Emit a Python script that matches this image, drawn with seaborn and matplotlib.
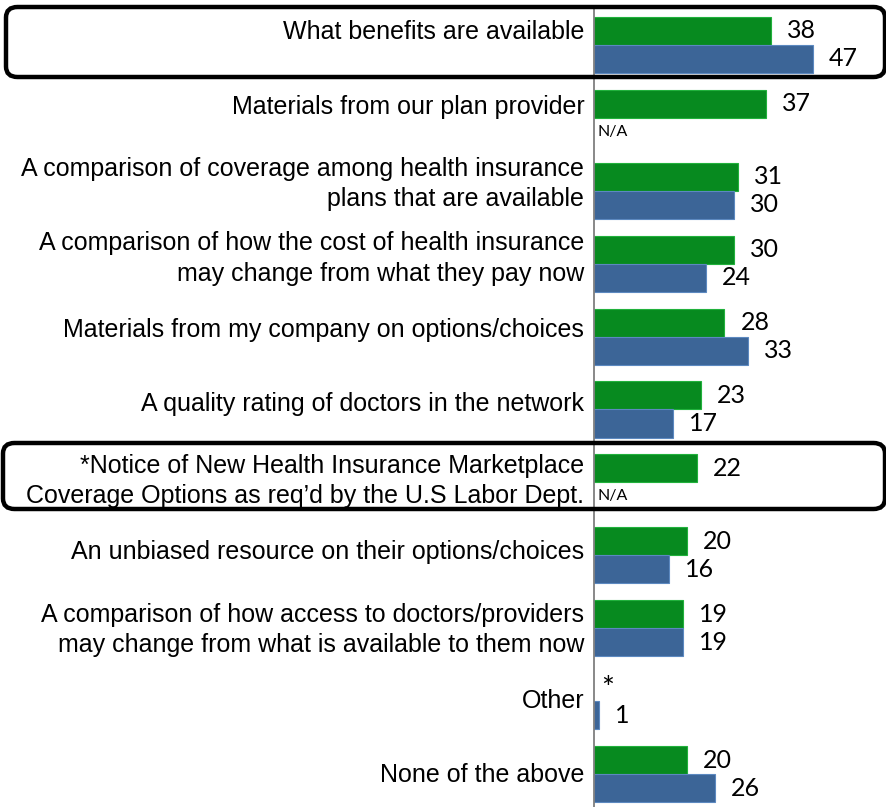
import numpy as np
import pandas as pd
import matplotlib
matplotlib.use("Agg")
import matplotlib.pyplot as plt
from matplotlib.patches import FancyBboxPatch
import seaborn as sns

# Survey items (two-line items wrap with \n)
categories = [
    "What benefits are available",
    "Materials from our plan provider",
    "A comparison of coverage among health insurance\nplans that are available",
    "A comparison of how the cost of health insurance\nmay change from what they pay now",
    "Materials from my company on options/choices",
    "A quality rating of doctors in the network",
    "*Notice of New Health Insurance Marketplace\nCoverage Options as req\u2019d by the U.S Labor Dept.",
    "An unbiased resource on their options/choices",
    "A comparison of how access to doctors/providers\nmay change from what is available to them now",
    "Other",
    "None of the above",
]
series_names = ["Current", "Prior"]
# Percent values; NaN = not asked / less than 0.5%
current_values = [38, 37, 31, 30, 28, 23, 22, 20, 19, np.nan, 20]
prior_values = [47, np.nan, 30, 24, 33, 17, np.nan, 16, 19, 1, 26]
# Text shown where a value is missing
current_missing = ["", "", "", "", "", "", "", "", "", "*", ""]
prior_missing = ["", "N/A", "", "", "", "", "N/A", "", "", "", ""]
highlighted = [0, 6]

GREEN = "#078A1F"
BLUE = "#3C6597"
FONT = ["Liberation Sans", "DejaVu Sans"]
NUM_FONT = ["Lato", "DejaVu Sans"]

df = pd.DataFrame({
    "item": categories * 2,
    "series": [series_names[0]] * len(categories) + [series_names[1]] * len(categories),
    "value": current_values + prior_values,
})

sns.set_style("white")
plt.rcParams["font.family"] = FONT
plt.rcParams["text.color"] = "black"
plt.rcParams["ytick.labelcolor"] = "black"

W, H = 886, 807
fig = plt.figure(figsize=(W / 100, H / 100), dpi=100)
ax_left, ax_top, ax_bottom = 594, 8.5, 810.5
ax = fig.add_axes([ax_left / W, (H - ax_bottom) / H, (W - ax_left) / W, (ax_bottom - ax_top) / H])

sns.barplot(data=df, y="item", x="value", hue="series", order=categories,
            hue_order=series_names, palette=[GREEN, BLUE], orient="h",
            width=0.77, gap=0, ax=ax, legend=False, errorbar=None,
            saturation=1, edgecolor=None, linewidth=0)

# thin lighter outline on the bars
for patch in ax.patches:
    fc = patch.get_facecolor()
    patch.set_edgecolor(tuple(min(1, c * 1.1 + 0.1) for c in fc[:3]))
    patch.set_linewidth(0.8)

px_per_unit = 4.66
ax.set_xlim(0, (W - ax_left) / px_per_unit)
ax.set_ylim(len(categories) - 0.5, -0.5)
ax.set_xlabel("")
ax.set_ylabel("")
ax.set_xticks([])

for s in ["top", "right", "bottom"]:
    ax.spines[s].set_visible(False)
ax.spines["left"].set_color("#7F7F7F")
ax.spines["left"].set_linewidth(1.3)

# category labels, spread slightly wider than the bar rows
n = len(categories)
label_pos = [i * 1.019 - 0.206 for i in range(n)]
ax.set_yticks(label_pos)
ax.set_yticklabels(categories, fontsize=18, linespacing=1.33, ha="right",
                   color="black")
ax.tick_params(axis="y", which="major", length=0, pad=7)
ax.set_yticks([i + 0.5 for i in range(n - 1)], minor=True)
ax.tick_params(axis="y", which="minor", length=6.5, width=1, color="#7F7F7F")

bw = 0.77 / 2
off = bw / 2
x_pad = 16 / px_per_unit
for i in range(n):
    for v, miss, dy in ((current_values[i], current_missing[i], -off),
                        (prior_values[i], prior_missing[i], off)):
        if not np.isnan(v):
            ax.text(v + x_pad, i + dy, f"{v:g}", fontsize=18, va="center",
                    ha="left", family=NUM_FONT)
        elif miss == "N/A":
            ax.text(0.8, i + dy, miss, fontsize=11.5, va="center", ha="left",
                    family=NUM_FONT)
        elif miss:
            ax.text(1.6, i + dy + 0.02, miss, fontsize=22, va="center", ha="left",
                    family=NUM_FONT)

# rounded frames around highlighted items
frames = {0: (6, 7, 885, 77), 6: (3, 443, 885, 509)}
for i in highlighted:
    x0, y0, x1, y1 = frames[i]
    box = FancyBboxPatch((x0 / W, (H - y1) / H), (x1 - x0) / W, (y1 - y0) / H,
                         boxstyle="round,pad=0,rounding_size=0.013",
                         transform=fig.transFigure, fill=False,
                         edgecolor="black", linewidth=3.2, zorder=10,
                         clip_on=False)
    fig.patches.append(box)

fig.savefig("out.png", dpi=100)
